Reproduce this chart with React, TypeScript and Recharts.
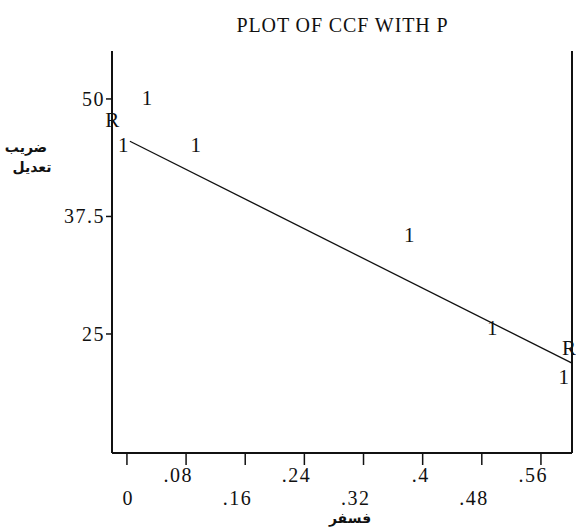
import React from "react";
import { ScatterChart, Scatter, XAxis, YAxis } from "recharts";

// tick values and labels
const xTicks = [0, 0.08, 0.16, 0.24, 0.32, 0.4, 0.48, 0.56];
const xTickLabels = ["0", ".08", ".16", ".24", ".32", ".4", ".48", ".56"];
const yTicks = [25, 37.5, 50];
const yTickLabels = ["25", "37.5", "50"];

// observed points (plotted as "1")
const obsX = [-0.005, 0.027, 0.093, 0.382, 0.494, 0.591];
const obsY = [45.1, 50.1, 45.1, 35.5, 25.6, 20.4];

// fitted line ends
const fitX = [0.004, 0.602];
const fitY = [45.5, 21.9];

// "R" markers at the frame edges
const rX = [-0.02, 0.598];
const rY = [47.8, 23.5];

const obsData = obsX.map((x, i) => ({ x, y: obsY[i] }));
const fitData = fitX.map((x, i) => ({ x, y: fitY[i] }));
const rData = rX.map((x, i) => ({ x, y: rY[i] }));

const serif = "'Liberation Serif', serif";
const arabic = "'DejaVu Sans', sans-serif";
const ink = "#111";

const CharMark = (ch: string) => (props: any) => {
  const { cx, cy } = props;
  if (cx == null || cy == null) return <g />;
  return (
    <text
      x={cx}
      y={cy + 7}
      textAnchor="middle"
      fontFamily={serif}
      fontSize={21}
      fill={ink}
    >
      {ch}
    </text>
  );
};

const NoMark = () => <g />;

const BottomTick = (props: any) => {
  const { x, y, payload } = props;
  const i = xTicks.indexOf(payload.value);
  const upper = i % 2 === 1;
  return (
    <text
      x={x + 7}
      y={y + (upper ? 15 : 38)}
      textAnchor="end"
      fontFamily={serif}
      fontSize={20}
      letterSpacing={1.5}
      fill={ink}
    >
      {xTickLabels[i]}
    </text>
  );
};

const LeftTick = (props: any) => {
  const { x, y, payload } = props;
  const i = yTicks.indexOf(payload.value);
  return (
    <text
      x={x + 1}
      y={y + 7}
      textAnchor="end"
      fontFamily={serif}
      fontSize={20}
      letterSpacing={1.5}
      fill={ink}
    >
      {yTickLabels[i]}
    </text>
  );
};

const arabicText: React.CSSProperties = {
  position: "absolute",
  textAlign: "center",
  fontFamily: arabic,
  fontWeight: "bold",
  fontSize: 14,
  lineHeight: "16px",
  color: ink,
  direction: "rtl",
};

export default function App() {
  return (
    <div
      style={{
        position: "absolute",
        left: 0,
        top: 0,
        width: 576,
        height: 527,
        background: "#fff",
        overflow: "hidden",
      }}
    >
      <div
        style={{
          position: "absolute",
          left: 200,
          width: 285,
          top: 15,
          textAlign: "center",
          fontFamily: serif,
          fontSize: 20,
          lineHeight: "20px",
          letterSpacing: 0.9,
          color: ink,
        }}
      >
        PLOT OF CCF WITH P
      </div>
      <div style={{ ...arabicText, left: 0, width: 52, top: 139 }}>ضریب</div>
      <div style={{ ...arabicText, left: 4, width: 56, top: 159 }}>تعدیل</div>
      <div style={{ ...arabicText, left: 310, width: 80, top: 510 }}>فسفر</div>
      <ScatterChart
        width={576}
        height={527}
        margin={{ top: 51, right: 2, left: 52, bottom: 24 }}
      >
        <XAxis
          xAxisId="bottom"
          type="number"
          dataKey="x"
          domain={[-0.0202, 0.6005]}
          ticks={xTicks}
          interval={0}
          height={50}
          tickSize={12}
          tickMargin={2}
          tick={BottomTick}
          axisLine={{ stroke: ink, strokeWidth: 2 }}
          tickLine={{ stroke: ink, strokeWidth: 1.5 }}
        />
        <XAxis
          xAxisId="top"
          orientation="top"
          type="number"
          dataKey="x"
          domain={[-0.0135, 0.609]}
          ticks={xTicks}
          interval={0}
          height={0}
          tickSize={10}
          tick={NoMark}
          axisLine={{ stroke: ink, strokeWidth: 2 }}
          tickLine={{ stroke: ink, strokeWidth: 1.5 }}
        />
        <YAxis
          yAxisId="left"
          type="number"
          dataKey="y"
          domain={[12.34, 55.1]}
          ticks={yTicks}
          interval={0}
          width={60}
          tickSize={6}
          tickMargin={2}
          tick={LeftTick}
          axisLine={{ stroke: ink, strokeWidth: 2 }}
          tickLine={{ stroke: ink, strokeWidth: 1.5 }}
        />
        <YAxis
          yAxisId="right"
          orientation="right"
          type="number"
          domain={[12.34, 55.1]}
          ticks={[]}
          width={2}
          tick={NoMark}
          tickLine={false}
          axisLine={{ stroke: ink, strokeWidth: 2 }}
        />
        <Scatter
          xAxisId="bottom"
          yAxisId="left"
          data={fitData}
          line={{ stroke: ink, strokeWidth: 1.3 }}
          shape={NoMark}
          isAnimationActive={false}
        />
        <Scatter
          xAxisId="bottom"
          yAxisId="left"
          data={obsData}
          shape={CharMark("1")}
          isAnimationActive={false}
        />
        <Scatter
          xAxisId="bottom"
          yAxisId="left"
          data={rData}
          shape={CharMark("R")}
          isAnimationActive={false}
        />
      </ScatterChart>
    </div>
  );
}
